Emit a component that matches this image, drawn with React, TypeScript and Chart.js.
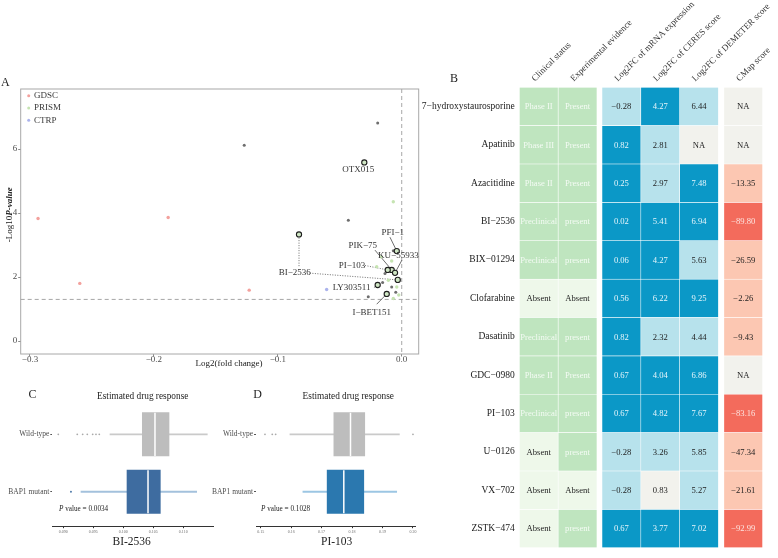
import React, { useEffect, useRef } from 'react';
import { Chart, registerables } from 'chart.js';

Chart.register(...registerables);

const SERIF = '"Liberation Serif", "Times New Roman", Times, serif';
Chart.defaults.font.family = SERIF;

// ---------------- Panel A data ----------------
const gdscFC = [-0.2935, -0.2598, -0.1885, -0.1231];
const gdscP = [3.83, 1.8, 3.86, 1.59];
const prismFC = [-0.0068, -0.0081, -0.0202, -0.0167, -0.0108, -0.004, -0.0068, -0.0024];
const prismP = [4.35, 2.5, 2.32, 2.63, 1.9, 1.69, 1.33, 1.44];
const ctrpFC = [-0.0606];
const ctrpP = [1.61];
const multiFC = [-0.1271, -0.0194, -0.0431, -0.027, -0.0135, -0.0154, -0.0068, -0.0081, -0.0048];
const multiP = [6.12, 6.81, 3.77, 1.38, 2.11, 1.83, 2.82, 1.69, 1.52];
const hitNames = ['OTX015', 'BI−2536', 'PFI−1', 'PIK−75', 'PI−103', 'KU−55933', 'BI−2536', 'LY303511', 'I−BET151'];
const hitFC = [-0.0302, -0.0829, -0.004, -0.0081, -0.0113, -0.0054, -0.0032, -0.0194, -0.0121];
const hitP = [5.58, 3.33, 2.81, 2.22, 2.22, 2.13, 1.91, 1.75, 1.47];
const pCut = 1.3;
const fcCut = 0;
const aXTicks = [-0.3, -0.2, -0.1, 0];
const aYTicks = [0, 2, 4, 6];

// label placement (repelled labels), in data units
const labelAt: (number[] | null)[] = [
  [-0.0351, 5.36],
  [-0.0864, 2.13],
  [-0.0073, 3.38],
  [-0.0315, 2.97],
  [-0.0401, 2.36],
  [-0.0027, 2.67],
  null,
  [-0.0405, 1.66],
  [-0.0242, 0.9],
];
const leaderFrom: (number[] | null)[] = [
  null,
  [-0.0829, 2.34],
  [-0.0095, 3.245],
  [-0.0216, 2.84],
  [-0.0296, 2.36],
  [0.0002, 2.53],
  [-0.0741, 2.12],
  [-0.0224, 1.67],
  [-0.0202, 1.15],
];
const leaderDotted = [false, true, false, false, true, false, true, true, false];

// ---------------- Panel B data ----------------
const drugs = ['7−hydroxystaurosporine', 'Apatinib', 'Azacitidine', 'BI−2536', 'BIX−01294', 'Clofarabine', 'Dasatinib', 'GDC−0980', 'PI−103', 'U−0126', 'VX−702', 'ZSTK−474'];
const clinical = ['Phase II', 'Phase III', 'Phase II', 'Preclinical', 'Preclinical', 'Absent', 'Preclinical', 'Phase II', 'Preclinical', 'Absent', 'Absent', 'Absent'];
const evidence = ['Present', 'Present', 'Present', 'present', 'present', 'Absent', 'present', 'Present', 'present', 'present', 'Absent', 'present'];
const mrnaFC = [-0.28, 0.82, 0.25, 0.02, 0.06, 0.56, 0.82, 0.67, 0.67, -0.28, -0.28, 0.67];
const ceresFC = [4.27, 2.81, 2.97, 5.41, 4.27, 6.22, 2.32, 4.04, 4.82, 3.26, 0.83, 3.77];
const demeterFC = [6.44, null, 7.48, 6.94, 5.63, 9.25, 4.44, 6.86, 7.67, 5.85, 5.27, 7.02];
const cmapScore = [null, null, -13.35, -89.8, -26.59, -2.26, -9.43, null, -83.16, -47.34, -21.61, -92.99];
const tableHeaders = ['Clinical status', 'Experimental evidence', 'Log2FC of mRNA expression', 'Log2FC of CERES score', 'Log2FC of DEMETER score', 'CMap score'];

// ---------------- Panels C / D data ----------------
const boxGroups = ['Wild-type', 'BAP1 mutant'];
const cQ1 = [0.10317, 0.10062];
const cMed = [0.10528, 0.10412];
const cQ3 = [0.10762, 0.10617];
const cLo = [0.09778, 0.09295];
const cHi = [0.114, 0.11223];
const cOutWT = [0.08917, 0.09233, 0.09323, 0.094, 0.0949, 0.09545, 0.096];
const cOutMut = [0.09128];
const cTicks = [0.09, 0.095, 0.1, 0.105, 0.11];

const dQ1 = [0.17402, 0.17182];
const dMed = [0.17949, 0.17729];
const dQ3 = [0.18417, 0.18385];
const dLo = [0.1596, 0.16386];
const dHi = [0.19554, 0.19466];
const dOutWT = [0.15141, 0.1538, 0.15491, 0.2];
const dOutMut: number[] = [];
const dTicks = [0.15, 0.16, 0.17, 0.18, 0.19, 0.2];

// ---------------- helpers ----------------
const zip = (xs: number[], ys: number[]) => xs.map((x, i) => ({ x, y: ys[i] }));
const minus = (s: string) => s.replace('-', '−');

function ChartBox({ left, top, width, height, build }: { left: number; top: number; width: number; height: number; build: () => any }) {
  const ref = useRef<HTMLCanvasElement>(null);
  useEffect(() => {
    const chart = new Chart(ref.current as HTMLCanvasElement, build());
    return () => chart.destroy();
  }, []);
  return (
    <div style={{ position: 'absolute', left, top, width, height }}>
      <canvas ref={ref} width={width} height={height} style={{ width, height, display: 'block' }} />
    </div>
  );
}

// ---------------- Panel A ----------------
function buildScatter() {
  const colGDSC = '#f3a19d';
  const colPRISM = '#c6e4b2';
  const colCTRP = '#abb3ec';
  const colMulti = '#6e6e6e';
  const leaders = leaderFrom.flatMap((from, i) =>
    from
      ? [{
          type: 'line',
          data: [{ x: from[0], y: from[1] }, { x: hitFC[i], y: hitP[i] }],
          borderColor: '#4a4a4a',
          borderWidth: 0.8,
          borderDash: leaderDotted[i] ? [1, 1.5] : [],
          pointRadius: 0,
          fill: false,
          tension: 0,
          order: 5,
        }]
      : []
  );
  const decor = {
    id: 'decorA',
    beforeDatasetsDraw(chart: any) {
      const { ctx, chartArea: ca, scales } = chart;
      ctx.save();
      ctx.strokeStyle = '#9c9c9c';
      ctx.lineWidth = 0.9;
      ctx.setLineDash([4, 3]);
      const yp = scales.y.getPixelForValue(pCut);
      ctx.beginPath();
      ctx.moveTo(ca.left, yp);
      ctx.lineTo(ca.right, yp);
      ctx.stroke();
      const xp = scales.x.getPixelForValue(fcCut);
      ctx.beginPath();
      ctx.moveTo(xp, ca.top);
      ctx.lineTo(xp, ca.bottom);
      ctx.stroke();
      ctx.restore();
    },
    afterDraw(chart: any) {
      const { ctx, chartArea: ca, scales } = chart;
      ctx.save();
      ctx.strokeStyle = '#a8a8a8';
      ctx.lineWidth = 1;
      ctx.strokeRect(ca.left, ca.top, ca.right - ca.left, ca.bottom - ca.top);
      // labels
      ctx.fillStyle = '#333';
      ctx.font = `9px ${SERIF}`;
      ctx.textAlign = 'center';
      ctx.textBaseline = 'middle';
      hitNames.forEach((name, i) => {
        const pos = labelAt[i];
        if (!pos) return;
        ctx.fillText(name, scales.x.getPixelForValue(pos[0]), scales.y.getPixelForValue(pos[1]));
      });
      // legend
      const legend = [['GDSC', colGDSC], ['PRISM', colPRISM], ['CTRP', colCTRP]];
      legend.forEach(([name, col], i) => {
        const y = 25.7 + i * 12.3;
        ctx.fillStyle = col;
        ctx.beginPath();
        ctx.arc(28.7, y, 1.5, 0, Math.PI * 2);
        ctx.fill();
        ctx.fillStyle = '#3a3a3a';
        ctx.textAlign = 'left';
        ctx.font = `9px ${SERIF}`;
        ctx.fillText(name, 34, y);
      });
      // panel letter
      ctx.fillStyle = '#222';
      ctx.font = `12px ${SERIF}`;
      ctx.textAlign = 'left';
      ctx.fillText('A', 1, 12.5);
      // x title
      ctx.font = `9px ${SERIF}`;
      ctx.textAlign = 'center';
      ctx.fillText('Log2(fold change)', 229, 293.7);
      // y title
      ctx.translate(10, 144.7);
      ctx.rotate(-Math.PI / 2);
      const a = '-Log10';
      const b = 'P-value';
      ctx.font = `9px ${SERIF}`;
      const wa = ctx.measureText(a).width;
      ctx.font = `italic bold 9px ${SERIF}`;
      const wb = ctx.measureText(b).width;
      const x0 = -(wa + wb) / 2;
      ctx.textAlign = 'left';
      ctx.font = `9px ${SERIF}`;
      ctx.fillText(a, x0, 0);
      ctx.font = `italic bold 9px ${SERIF}`;
      ctx.fillText(b, x0 + wa, 0);
      ctx.restore();
    },
  };
  return {
    type: 'scatter',
    data: {
      datasets: [
        ...leaders,
        { label: 'GDSC', data: zip(gdscFC, gdscP), backgroundColor: colGDSC, pointRadius: 1.7, borderWidth: 0, order: 2 },
        { label: 'PRISM', data: zip(prismFC, prismP), backgroundColor: colPRISM, pointRadius: 1.7, borderWidth: 0, order: 2 },
        { label: 'CTRP', data: zip(ctrpFC, ctrpP), backgroundColor: colCTRP, pointRadius: 1.7, borderWidth: 0, order: 2 },
        { label: 'multi', data: zip(multiFC, multiP), backgroundColor: colMulti, pointRadius: 1.5, borderWidth: 0, order: 2 },
        { label: 'hits', data: zip(hitFC, hitP), backgroundColor: '#cfe6c4', borderColor: '#1e1e1e', pointRadius: 2.6, pointBorderWidth: 1.1, borderWidth: 1.1, order: 0 },
      ],
    },
    options: {
      responsive: false,
      animation: false,
      layout: { autoPadding: false, padding: { left: 0, right: 6.3, top: 19, bottom: 0 } },
      plugins: { legend: { display: false }, tooltip: { enabled: false } },
      scales: {
        x: {
          type: 'linear',
          min: -0.3075,
          max: 0.0137,
          afterFit: (s: any) => { s.height = 21; },
          afterBuildTicks: (s: any) => { s.ticks = aXTicks.map((v) => ({ value: v })); },
          ticks: {
            callback: (v: any) => (v === 0 ? '0.0' : (v < 0 ? '−' : '') + Math.abs(v).toFixed(1)),
            font: { size: 9, lineHeight: 1 },
            color: '#4d4d4d',
            padding: -1,
            autoSkip: false,
            maxRotation: 0,
          },
          grid: { drawOnChartArea: false, tickLength: 2.5, color: '#8c8c8c', offset: false },
          border: { display: false },
        },
        y: {
          type: 'linear',
          min: -0.406,
          max: 7.875,
          afterFit: (s: any) => { s.width = 20.7; },
          afterBuildTicks: (s: any) => { s.ticks = aYTicks.map((v) => ({ value: v })); },
          ticks: { callback: (v: any) => String(v), font: { size: 9 }, color: '#4d4d4d', padding: 1, autoSkip: false },
          grid: { drawOnChartArea: false, tickLength: 2.5, color: '#8c8c8c', offset: false },
          border: { display: false },
        },
      },
    },
    plugins: [decor],
  };
}

// ---------------- Panel B ----------------
const GREEN = '#bfe5bf';
const PALE_GREEN = '#eef8ea';
const BLUE = '#0b98c7';
const LIGHT_BLUE = '#b7e2ec';
const NEUTRAL = '#f2f2ed';
const SALMON = '#fcc7b2';
const RED = '#f36b5c';
const colStart = [0, 1, 2.13, 3.13, 4.13, 5.27];
const tableCols: any[][] = [clinical, evidence, mrnaFC, ceresFC, demeterFC, cmapScore];

function cellFill(c: number, v: any): string {
  if (c <= 1) return v === 'Absent' ? PALE_GREEN : GREEN;
  if (v === null || v === undefined) return NEUTRAL;
  if (c === 2) return v > 0 ? BLUE : LIGHT_BLUE;
  if (c === 3) return v < 1 ? NEUTRAL : v >= 3.5 ? BLUE : LIGHT_BLUE;
  if (c === 4) return v >= 6.5 ? BLUE : LIGHT_BLUE;
  return v <= -50 ? RED : SALMON;
}
function textColor(fill: string): string {
  if (fill === GREEN) return '#f4fbf4';
  if (fill === BLUE) return '#e6f5fb';
  if (fill === RED) return '#fde4e0';
  return '#1e1e1e';
}
function cellText(c: number, v: any): string {
  if (c <= 1) return v;
  if (v === null || v === undefined) return 'NA';
  return minus(v.toFixed(2));
}

function buildTable() {
  const decor = {
    id: 'decorB',
    afterDatasetsDraw(chart: any) {
      const ctx = chart.ctx;
      ctx.save();
      ctx.font = `8.6px ${SERIF}`;
      ctx.textAlign = 'center';
      ctx.textBaseline = 'middle';
      chart.data.datasets.forEach((_: any, c: number) => {
        const meta = chart.getDatasetMeta(c);
        meta.data.forEach((el: any, r: number) => {
          const p = el.getProps(['x', 'base', 'y'], true);
          const v = tableCols[c][r];
          ctx.fillStyle = textColor(cellFill(c, v));
          ctx.fillText(cellText(c, v), (p.x + p.base) / 2, p.y + 0.5);
        });
      });
      ctx.restore();
    },
    afterDraw(chart: any) {
      const { ctx, scales } = chart;
      ctx.save();
      ctx.fillStyle = '#333';
      ctx.font = `9px ${SERIF}`;
      ctx.textAlign = 'left';
      ctx.textBaseline = 'alphabetic';
      tableHeaders.forEach((h, c) => {
        const cx = scales.x.getPixelForValue(colStart[c] + 0.5);
        ctx.save();
        ctx.translate(cx - 3.7, 81.7);
        ctx.rotate(-Math.PI / 4);
        ctx.fillText(h, 0, 0);
        ctx.restore();
      });
      ctx.fillStyle = '#222';
      ctx.font = `12px ${SERIF}`;
      ctx.textAlign = 'center';
      ctx.textBaseline = 'middle';
      ctx.fillText('B', 44, 79);
      ctx.restore();
    },
  };
  return {
    type: 'bar',
    data: {
      labels: drugs,
      datasets: tableCols.map((col, c) => ({
        label: tableHeaders[c],
        data: drugs.map(() => [colStart[c], colStart[c] + 1]),
        backgroundColor: col.map((v: any) => cellFill(c, v)),
        borderColor: '#ffffff',
        borderWidth: 0.6,
        borderSkipped: false,
        grouped: false,
        categoryPercentage: 1,
        barPercentage: 1,
      })),
    },
    options: {
      indexAxis: 'y',
      responsive: false,
      animation: false,
      layout: { autoPadding: false, padding: { left: 0, right: 15.3, top: 87.3, bottom: 2 } },
      plugins: { legend: { display: false }, tooltip: { enabled: false } },
      scales: {
        x: { type: 'linear', min: 0, max: 6.27, display: false },
        y: {
          type: 'category',
          offset: true,
          afterFit: (s: any) => { s.width = 109.3; },
          ticks: { font: { size: 9.5 }, color: '#1a1a1a', padding: 4.5, autoSkip: false },
          grid: { display: false, drawTicks: false, tickLength: 0 },
          border: { display: false },
        },
      },
    },
    plugins: [decor],
  };
}

// ---------------- Panels C / D ----------------
interface BoxSpec {
  letter: string; drug: string; pText: string;
  q1: number[]; med: number[]; q3: number[]; lo: number[]; hi: number[];
  outWT: number[]; outMut: number[];
  xMin: number; xMax: number; ticks: number[]; digits: number;
  mutFill: string; mutWhisker: string;
  yWidth: number; padRight: number;
  letterX: number; titleX: number; drugX: number; pX: number;
}

const specC: BoxSpec = {
  letter: 'C', drug: 'BI-2536', pText: ' value = 0.0034',
  q1: cQ1, med: cMed, q3: cQ3, lo: cLo, hi: cHi, outWT: cOutWT, outMut: cOutMut,
  xMin: 0.08817, xMax: 0.115, ticks: cTicks, digits: 3,
  mutFill: '#3e6ca0', mutWhisker: '#a3c1dc',
  yWidth: 52.3, padRight: 2.7,
  letterX: 32.5, titleX: 142.7, drugX: 131.7, pX: 59,
};
const specD: BoxSpec = {
  letter: 'D', drug: 'PI-103', pText: ' value = 0.1028',
  q1: dQ1, med: dMed, q3: dQ3, lo: dLo, hi: dHi, outWT: dOutWT, outMut: dOutMut,
  xMin: 0.14846, xMax: 0.20088, ticks: dTicks, digits: 2,
  mutFill: '#2b78af', mutWhisker: '#9cc6e3',
  yWidth: 56, padRight: 2,
  letterX: 57.5, titleX: 148.3, drugX: 136.7, pX: 61,
};

function buildBox(p: BoxSpec) {
  const WT_FILL = '#bdbdbd';
  const WT_WHISK = '#cacaca';
  const decor = {
    id: 'decorBox',
    afterDraw(chart: any) {
      const ctx = chart.ctx;
      ctx.save();
      ctx.fillStyle = '#1e1e1e';
      ctx.textBaseline = 'middle';
      ctx.textAlign = 'center';
      ctx.font = `12px ${SERIF}`;
      ctx.fillText(p.letter, p.letterX, 9.5);
      ctx.font = `9.3px ${SERIF}`;
      ctx.fillText('Estimated drug response', p.titleX, 11.7);
      ctx.font = `11.5px ${SERIF}`;
      ctx.fillText(p.drug, p.drugX, 156.7);
      ctx.textAlign = 'left';
      ctx.font = `italic 7.2px ${SERIF}`;
      ctx.fillText('P', p.pX, 124.3);
      const w = ctx.measureText('P').width;
      ctx.font = `7.2px ${SERIF}`;
      ctx.fillText(p.pText, p.pX + w, 124.3);
      ctx.restore();
    },
  };
  const outliers = [...p.outWT.map((v) => ({ x: v, y: 1 })), ...p.outMut.map((v) => ({ x: v, y: 2 }))];
  const outColors = [...p.outWT.map(() => '#aaaaaa'), ...p.outMut.map(() => p.mutFill)];
  return {
    type: 'bar',
    data: {
      datasets: [
        {
          type: 'bar',
          data: [0, 1].map((i) => ({ x: [p.q1[i], p.q3[i]], y: i + 1 })),
          backgroundColor: [WT_FILL, p.mutFill],
          barThickness: 43.3, maxBarThickness: 43.3,
          grouped: false, categoryPercentage: 1, barPercentage: 1,
          borderWidth: 0, order: 1,
        },
        {
          type: 'bar',
          data: [0, 1].map((i) => ({ x: [p.lo[i], p.hi[i]], y: i + 1 })),
          backgroundColor: [WT_WHISK, p.mutWhisker],
          barThickness: 1.1, maxBarThickness: 1.1,
          grouped: false, categoryPercentage: 1, barPercentage: 1,
          borderWidth: 0, order: 2,
        },
        {
          type: 'scatter',
          data: [0, 1].map((i) => ({ x: p.med[i], y: i + 1 })),
          pointStyle: 'line', pointRotation: 90, pointRadius: 21.6,
          borderColor: '#ffffff', pointBorderColor: '#ffffff',
          borderWidth: 1.5, pointBorderWidth: 1.5, order: 0,
        },
        {
          type: 'scatter',
          data: outliers,
          pointRadius: 0.9, backgroundColor: outColors, pointBackgroundColor: outColors,
          borderWidth: 0, pointBorderWidth: 0, order: 0,
        },
      ],
    },
    options: {
      indexAxis: 'y',
      responsive: false,
      animation: false,
      layout: { autoPadding: false, padding: { left: 0, right: p.padRight, top: 14.9, bottom: 0 } },
      plugins: { legend: { display: false }, tooltip: { enabled: false } },
      scales: {
        x: {
          type: 'linear', min: p.xMin, max: p.xMax, offset: false,
          afterFit: (s: any) => { s.height = 31.8; },
          afterBuildTicks: (s: any) => { s.ticks = p.ticks.map((v) => ({ value: v })); },
          ticks: { callback: (v: any) => Number(v).toFixed(p.digits), font: { size: 4 }, color: '#6a6a6a', padding: 1.5, autoSkip: false, maxRotation: 0 },
          grid: { drawOnChartArea: false, tickLength: 2, color: '#333', offset: false },
          border: { display: true, color: '#333', width: 1 },
        },
        y: {
          type: 'linear', min: 0.4, max: 2.6, reverse: true, offset: false,
          afterFit: (s: any) => { s.width = p.yWidth; },
          afterBuildTicks: (s: any) => { s.ticks = [1, 2].map((v) => ({ value: v })); },
          ticks: { callback: (v: any) => boxGroups[Number(v) - 1], font: { size: 7.5 }, color: '#4d4d4d', padding: 1, autoSkip: false },
          grid: { drawOnChartArea: false, tickLength: 2, color: '#555', offset: false },
          border: { display: false },
        },
      },
    },
    plugins: [decor],
  };
}

export default function App() {
  return (
    <div style={{ position: 'fixed', left: 0, top: 0, width: 778, height: 558, background: '#ffffff', overflow: 'hidden' }}>
      <ChartBox left={0} top={70} width={425} height={305} build={buildScatter} />
      <ChartBox left={410} top={0} width={368} height={558} build={buildTable} />
      <ChartBox left={0} top={385} width={216} height={173} build={() => buildBox(specC)} />
      <ChartBox left={200} top={385} width={218} height={173} build={() => buildBox(specD)} />
    </div>
  );
}
